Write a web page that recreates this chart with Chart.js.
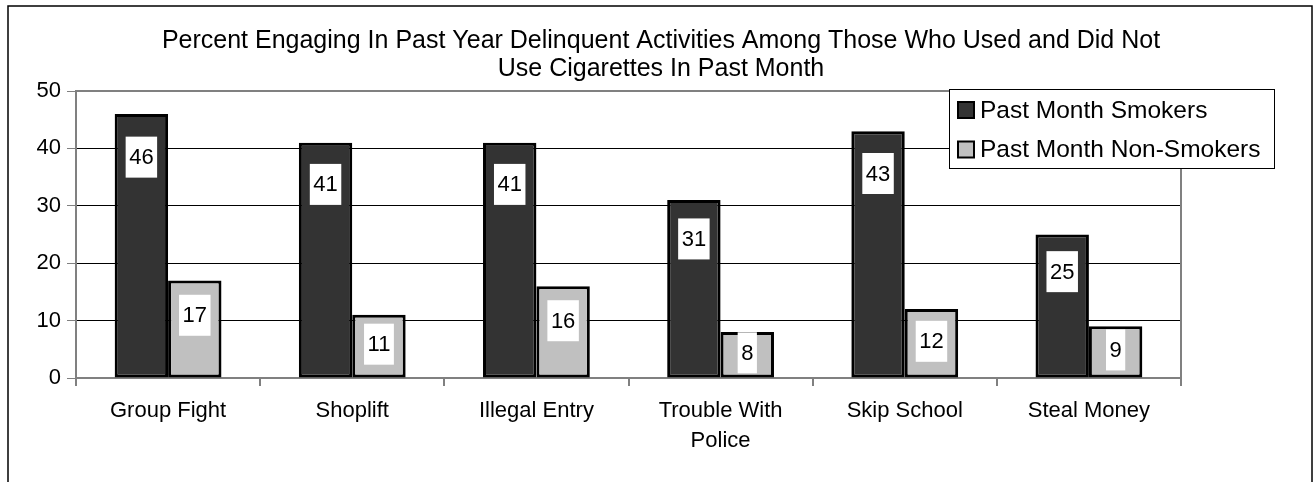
<!DOCTYPE html>
<html>
<head>
<meta charset="utf-8">
<script src="https://cdn.jsdelivr.net/npm/chart.js@4.4.1/dist/chart.umd.min.js"></script>
<style>
  html, body { margin: 0; padding: 0; background: #fff; }
  #wrap { width: 1314px; height: 482px; position: relative; }
</style>
</head>
<body>
<div id="wrap"><canvas id="c" width="1314" height="482"></canvas></div>
<script>
const titleLines = ['Percent Engaging In Past Year Delinquent Activities Among Those Who Used and Did Not', 'Use Cigarettes In Past Month'];
const categories = ['Group Fight', 'Shoplift', 'Illegal Entry', ['Trouble With', 'Police'], 'Skip School', 'Steal Money'];
const seriesNames = ['Past Month Smokers', 'Past Month Non-Smokers'];
const smokers = [46, 41, 41, 31, 43, 25];
const nonSmokers = [17, 11, 16, 8, 12, 9];
const yMin = 0, yMax = 50, yStep = 10;

const FONT = '"Liberation Sans", Arial, sans-serif';
const colors = ['#333333', '#C0C0C0'];

const framePlugin = {
  id: 'frame',
  beforeDraw(chart) {
    const ctx = chart.ctx;
    ctx.save();
    ctx.fillStyle = '#fff';
    ctx.fillRect(0, 0, chart.width, chart.height);
    ctx.strokeStyle = '#000';
    ctx.lineWidth = 1.5;
    ctx.strokeRect(8, 6, 1304, 490);
    // title
    ctx.fillStyle = '#000';
    ctx.font = '25px ' + FONT;
    ctx.textAlign = 'center';
    ctx.textBaseline = 'alphabetic';
    ctx.fillText(titleLines[0], 661, 48);
    ctx.fillText(titleLines[1], 661, 76);
    ctx.restore();
  },
  beforeDatasetsDraw(chart) {
    const a = chart.chartArea, ctx = chart.ctx;
    ctx.save();
    ctx.strokeStyle = '#808080';
    ctx.lineWidth = 2;
    ctx.beginPath();
    ctx.moveTo(a.left, a.top); ctx.lineTo(a.right, a.top); ctx.lineTo(a.right, a.bottom + 7);
    ctx.stroke();
    ctx.restore();
  },
  afterDatasetsDraw(chart) {
    const ctx = chart.ctx, a = chart.chartArea;
    ctx.save();
    ctx.beginPath();
    ctx.rect(a.left, a.top, a.right - a.left, a.bottom - a.top - 1);
    ctx.clip();
    ctx.font = '22px ' + FONT;
    ctx.textAlign = 'center';
    ctx.textBaseline = 'middle';
    chart.data.datasets.forEach((ds, di) => {
      const meta = chart.getDatasetMeta(di);
      meta.data.forEach((bar, i) => {
        const v = ds.data[i];
        const txt = String(v);
        const h = bar.base - bar.y;
        const off = Math.min(h / 2 - 2, 30 + h * 0.05);
        const cy = bar.y + off;
        const w = ctx.measureText(txt).width + 7;
        ctx.fillStyle = '#fff';
        ctx.fillRect(bar.x - w / 2, cy - 20.5, w, 41);
        ctx.fillStyle = '#000';
        ctx.fillText(txt, bar.x, cy + 1);
      });
    });
    ctx.restore();
  },
  afterDraw(chart) {
    const ctx = chart.ctx;
    ctx.save();
    // legend
    const lx = 949, ly = 89, lw = 325, lh = 79;
    ctx.fillStyle = '#fff';
    ctx.fillRect(lx, ly, lw, lh);
    ctx.strokeStyle = '#000';
    ctx.lineWidth = 1;
    ctx.strokeRect(lx + 0.5, ly + 0.5, lw, lh);
    ctx.font = '24.5px ' + FONT;
    ctx.textAlign = 'left';
    ctx.textBaseline = 'middle';
    const rows = [110, 149.5];
    chart.data.datasets.forEach((ds, di) => {
      const cy = rows[di];
      ctx.fillStyle = ds.backgroundColor;
      ctx.fillRect(958, cy - 8, 16, 16);
      ctx.strokeStyle = '#000';
      ctx.lineWidth = 2;
      ctx.strokeRect(958, cy - 8, 16, 16);
      ctx.fillStyle = '#000';
      ctx.fillText(ds.label, 980, cy + 1);
    });
    ctx.restore();
  }
};

new Chart(document.getElementById('c'), {
  type: 'bar',
  data: {
    labels: categories,
    datasets: [
      { label: seriesNames[0], data: smokers, backgroundColor: colors[0], borderColor: '#000', borderWidth: 3, borderSkipped: false },
      { label: seriesNames[1], data: nonSmokers, backgroundColor: colors[1], borderColor: '#000', borderWidth: 3, borderSkipped: false }
    ]
  },
  options: {
    responsive: false,
    animation: false,
    devicePixelRatio: 1,
    layout: { padding: { top: 91, right: 133, left: 0, bottom: 0 } },
    datasets: { bar: { categoryPercentage: 0.58, barPercentage: 1 } },
    plugins: { legend: { display: false }, title: { display: false }, tooltip: { enabled: false } },
    scales: {
      x: {
        grid: { display: true, drawOnChartArea: false, offset: true, tickLength: 8, color: '#808080', lineWidth: 2 },
        border: { color: '#808080', width: 2 },
        ticks: { color: '#000', font: { family: FONT, size: 22, lineHeight: 1.36 }, padding: 10, maxRotation: 0, autoSkip: false },
        afterFit(s) { s.height = 104; }
      },
      y: {
        min: yMin, max: yMax,
        grid: { color: '#000', lineWidth: 1, tickLength: 9, tickColor: '#808080' },
        border: { color: '#808080', width: 2 },
        ticks: { stepSize: yStep, color: '#000', font: { family: FONT, size: 22 }, padding: 6 },
        afterFit(s) { s.width = 76; }
      }
    }
  },
  plugins: [framePlugin]
});
</script>
</body>
</html>
